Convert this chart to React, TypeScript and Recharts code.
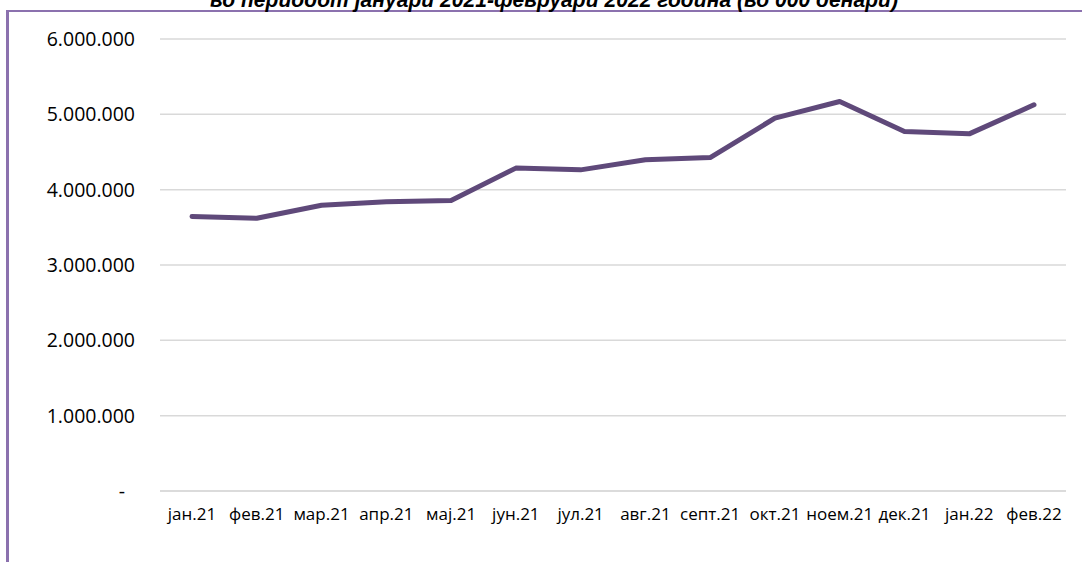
import React from 'react';
import { LineChart, Line, XAxis, YAxis, CartesianGrid } from 'recharts';

const months = ['јан.21', 'фев.21', 'мар.21', 'апр.21', 'мај.21', 'јун.21', 'јул.21', 'авг.21', 'септ.21', 'окт.21', 'ноем.21', 'дек.21', 'јан.22', 'фев.22'];
const values = [3643000, 3621000, 3794000, 3838000, 3855000, 4286000, 4263000, 4396000, 4426000, 4949000, 5170000, 4772000, 4741000, 5126000];
const yTicks = [0, 1000000, 2000000, 3000000, 4000000, 5000000, 6000000];

const title = 'во периодот јануари 2021-февруари 2022 година (во 000 денари)';

const data = months.map((m, i) => ({ month: m, value: values[i] }));

const fmt = (v: number) => (v === 0 ? '-' : v.toLocaleString('de-DE'));

const YTick = (props: any) => {
  const { y, payload } = props;
  const zero = payload.value === 0;
  return (
    <text x={zero ? 125 : 135} y={y} dy={7} textAnchor="end" fill="#000" fontSize={19.5} fontFamily="'Open Sans', sans-serif">
      {fmt(payload.value)}
    </text>
  );
};

const XTick = (props: any) => {
  const { x, y, payload } = props;
  return (
    <text x={x} y={y} dy={21} textAnchor="middle" fill="#000" fontSize={17} fontFamily="'Open Sans', sans-serif">
      {payload.value}
    </text>
  );
};

export default function App() {
  return (
    <div style={{ position: 'absolute', left: 0, top: 0, width: 1082, height: 562, overflow: 'hidden', background: '#fff' }}>
      <div style={{ position: 'absolute', left: 6, top: 10, width: 2000, height: 2000, borderTop: '2px solid #8b71ae', borderLeft: '3px solid #8b71ae' }} />
      <svg width={1082} height={20} style={{ position: 'absolute', left: 0, top: 0 }}>
        <text x={554} y={7} textAnchor="middle" fontSize={22} fontWeight="bold" fontStyle="italic" fontFamily="'Liberation Sans', Arial, sans-serif" fill="#000" textLength={688} lengthAdjust="spacingAndGlyphs">
          {title}
        </text>
      </svg>
      <div style={{ position: 'absolute', left: 0, top: 0 }}>
        <LineChart width={1082} height={562} data={data} margin={{ top: 39, right: 16, left: 0, bottom: 0 }}>
          <CartesianGrid vertical={false} stroke="#d9d9d9" strokeWidth={1.5} />
          <XAxis dataKey="month" height={71} padding={{ left: 32, right: 32 }} tickLine={false} axisLine={{ stroke: '#d9d9d9', strokeWidth: 1.5 }} tick={<XTick />} interval={0} />
          <YAxis width={160} domain={[0, 6000000]} ticks={yTicks} tickLine={false} axisLine={false} tick={<YTick />} interval={0} />
          <Line type="linear" dataKey="value" stroke="#5f497a" strokeWidth={5} dot={false} strokeLinecap="round" strokeLinejoin="round" isAnimationActive={false} />
        </LineChart>
      </div>
    </div>
  );
}
